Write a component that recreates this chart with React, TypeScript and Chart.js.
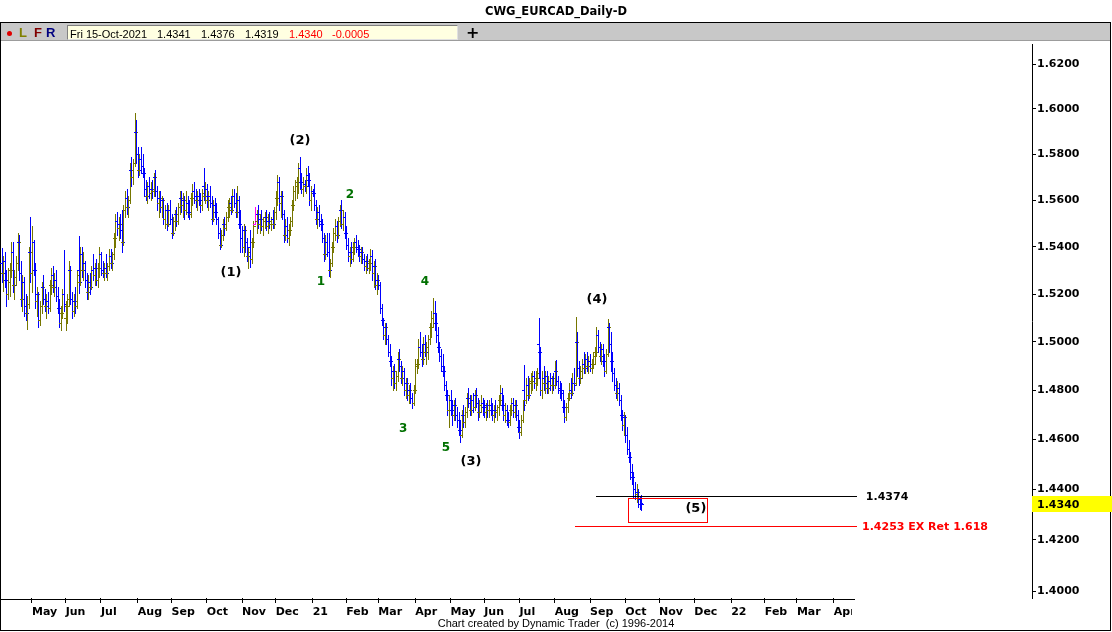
import React, { useEffect, useRef } from 'react';
import { Chart, registerables } from 'chart.js';

Chart.register(...registerables);

// ---------------- DATA ----------------
const FIRST_BAR_DATE = '2020-04-06';

// one row per trading day: [open, high, low, close]
const ohlcBars: [number, number, number, number][] = [
  // Apr 6-10 2020
  [1.5330, 1.5395, 1.5250, 1.5290], [1.5290, 1.5360, 1.5215, 1.5340], [1.5340, 1.5380, 1.5230, 1.5260], [1.5260, 1.5300, 1.5150, 1.5200], [1.5200, 1.5310, 1.5180, 1.5250],
  // Apr 13-17
  [1.5250, 1.5330, 1.5190, 1.5300], [1.5300, 1.5420, 1.5270, 1.5380], [1.5380, 1.5420, 1.5210, 1.5240], [1.5240, 1.5300, 1.5180, 1.5270], [1.5270, 1.5360, 1.5240, 1.5330],
  // Apr 20-24
  [1.5330, 1.5460, 1.5300, 1.5420], [1.5420, 1.5450, 1.5260, 1.5290], [1.5290, 1.5340, 1.5150, 1.5180], [1.5180, 1.5280, 1.5130, 1.5250], [1.5250, 1.5270, 1.5110, 1.5150],
  // Apr 27 - May 1
  [1.5150, 1.5200, 1.5090, 1.5120], [1.5120, 1.5190, 1.5055, 1.5160], [1.5160, 1.5400, 1.5140, 1.5380], [1.5380, 1.5530, 1.5250, 1.5290], [1.5290, 1.5490, 1.5210, 1.5420],
  // May 4-8
  [1.5420, 1.5430, 1.5280, 1.5300], [1.5300, 1.5330, 1.5140, 1.5170], [1.5170, 1.5230, 1.5110, 1.5200], [1.5200, 1.5210, 1.5060, 1.5090], [1.5090, 1.5170, 1.5070, 1.5150],
  // May 11-15
  [1.5150, 1.5250, 1.5120, 1.5230], [1.5230, 1.5280, 1.5160, 1.5180], [1.5180, 1.5220, 1.5130, 1.5150], [1.5150, 1.5200, 1.5100, 1.5170], [1.5170, 1.5210, 1.5120, 1.5140],
  // May 18-22
  [1.5140, 1.5260, 1.5130, 1.5240], [1.5240, 1.5310, 1.5200, 1.5280], [1.5280, 1.5320, 1.5210, 1.5230], [1.5230, 1.5290, 1.5190, 1.5260], [1.5260, 1.5300, 1.5170, 1.5190],
  // May 25-29
  [1.5190, 1.5230, 1.5120, 1.5140], [1.5140, 1.5180, 1.5060, 1.5080], [1.5080, 1.5150, 1.5050, 1.5120], [1.5120, 1.5220, 1.5100, 1.5200], [1.5200, 1.5385, 1.5130, 1.5160],
  // Jun 1-5
  [1.5100, 1.5170, 1.5050, 1.5150], [1.5150, 1.5200, 1.5080, 1.5180], [1.5180, 1.5340, 1.5150, 1.5300], [1.5300, 1.5320, 1.5160, 1.5180], [1.5180, 1.5210, 1.5100, 1.5130],
  // Jun 8-12
  [1.5130, 1.5200, 1.5110, 1.5170], [1.5170, 1.5230, 1.5120, 1.5150], [1.5150, 1.5300, 1.5140, 1.5280], [1.5300, 1.5445, 1.5205, 1.5250], [1.5250, 1.5400, 1.5240, 1.5370],
  // Jun 15-19
  [1.5370, 1.5400, 1.5270, 1.5300], [1.5300, 1.5380, 1.5260, 1.5330], [1.5330, 1.5340, 1.5230, 1.5260], [1.5260, 1.5290, 1.5180, 1.5210], [1.5210, 1.5280, 1.5180, 1.5250],
  // Jun 22-26
  [1.5250, 1.5290, 1.5200, 1.5230], [1.5230, 1.5320, 1.5220, 1.5300], [1.5300, 1.5370, 1.5260, 1.5280], [1.5280, 1.5330, 1.5240, 1.5310], [1.5310, 1.5350, 1.5240, 1.5260],
  // Jun 29 - Jul 3
  [1.5260, 1.5330, 1.5230, 1.5310], [1.5310, 1.5400, 1.5270, 1.5370], [1.5370, 1.5380, 1.5280, 1.5300], [1.5300, 1.5340, 1.5270, 1.5290], [1.5290, 1.5330, 1.5260, 1.5310],
  // Jul 6-10
  [1.5310, 1.5370, 1.5270, 1.5290], [1.5290, 1.5330, 1.5260, 1.5320], [1.5320, 1.5390, 1.5300, 1.5360], [1.5360, 1.5390, 1.5310, 1.5330], [1.5330, 1.5380, 1.5300, 1.5370],
  // Jul 13-17
  [1.5370, 1.5460, 1.5350, 1.5440], [1.5440, 1.5540, 1.5400, 1.5510], [1.5510, 1.5550, 1.5450, 1.5480], [1.5480, 1.5530, 1.5430, 1.5500], [1.5500, 1.5540, 1.5440, 1.5470],
  // Jul 20-24
  [1.5470, 1.5560, 1.5380, 1.5420], [1.5420, 1.5580, 1.5410, 1.5560], [1.5560, 1.5640, 1.5530, 1.5610], [1.5610, 1.5650, 1.5540, 1.5570], [1.5570, 1.5620, 1.5530, 1.5600],
  // Jul 27-31
  [1.5600, 1.5760, 1.5590, 1.5730], [1.5730, 1.5790, 1.5660, 1.5700], [1.5700, 1.5780, 1.5670, 1.5760], [1.5760, 1.5980, 1.5750, 1.5900], [1.5900, 1.5950, 1.5760, 1.5800],
  // Aug 3-7
  [1.5800, 1.5830, 1.5700, 1.5730], [1.5730, 1.5800, 1.5710, 1.5780], [1.5780, 1.5830, 1.5720, 1.5750], [1.5750, 1.5800, 1.5700, 1.5720], [1.5720, 1.5740, 1.5620, 1.5650],
  // Aug 10-14
  [1.5650, 1.5690, 1.5600, 1.5620], [1.5620, 1.5680, 1.5590, 1.5660], [1.5660, 1.5700, 1.5610, 1.5630], [1.5630, 1.5680, 1.5600, 1.5650], [1.5650, 1.5690, 1.5610, 1.5640],
  // Aug 17-21
  [1.5640, 1.5720, 1.5620, 1.5700], [1.5700, 1.5730, 1.5620, 1.5640], [1.5640, 1.5660, 1.5560, 1.5590], [1.5590, 1.5640, 1.5530, 1.5610], [1.5610, 1.5640, 1.5550, 1.5570],
  // Aug 24-28
  [1.5570, 1.5620, 1.5530, 1.5600], [1.5600, 1.5610, 1.5500, 1.5520], [1.5520, 1.5580, 1.5480, 1.5560], [1.5560, 1.5590, 1.5470, 1.5500], [1.5500, 1.5580, 1.5490, 1.5560],
  // Aug 31 - Sep 4
  [1.5560, 1.5600, 1.5500, 1.5520], [1.5520, 1.5540, 1.5440, 1.5460], [1.5460, 1.5530, 1.5450, 1.5510], [1.5510, 1.5560, 1.5470, 1.5540], [1.5540, 1.5570, 1.5490, 1.5510],
  // Sep 7-11
  [1.5510, 1.5590, 1.5500, 1.5570], [1.5570, 1.5640, 1.5540, 1.5610], [1.5610, 1.5640, 1.5550, 1.5580], [1.5580, 1.5630, 1.5530, 1.5600], [1.5600, 1.5620, 1.5520, 1.5560],
  // Sep 14-18
  [1.5560, 1.5640, 1.5540, 1.5590], [1.5590, 1.5620, 1.5530, 1.5550], [1.5550, 1.5600, 1.5520, 1.5540], [1.5540, 1.5630, 1.5530, 1.5610], [1.5610, 1.5670, 1.5580, 1.5640],
  // Sep 21-25
  [1.5640, 1.5680, 1.5590, 1.5620], [1.5620, 1.5650, 1.5570, 1.5600], [1.5600, 1.5640, 1.5560, 1.5620], [1.5620, 1.5650, 1.5580, 1.5600], [1.5600, 1.5630, 1.5550, 1.5580],
  // Sep 28 - Oct 2
  [1.5580, 1.5650, 1.5560, 1.5630], [1.5660, 1.5740, 1.5600, 1.5620], [1.5620, 1.5680, 1.5590, 1.5650], [1.5650, 1.5670, 1.5570, 1.5600], [1.5600, 1.5640, 1.5560, 1.5620],
  // Oct 5-9
  [1.5620, 1.5660, 1.5570, 1.5590], [1.5590, 1.5620, 1.5500, 1.5520], [1.5520, 1.5600, 1.5510, 1.5580], [1.5580, 1.5610, 1.5530, 1.5550], [1.5550, 1.5590, 1.5500, 1.5520],
  // Oct 12-16
  [1.5520, 1.5530, 1.5440, 1.5460], [1.5460, 1.5480, 1.5390, 1.5410], [1.5410, 1.5470, 1.5400, 1.5450], [1.5450, 1.5520, 1.5430, 1.5500], [1.5500, 1.5530, 1.5450, 1.5480],
  // Oct 19-23
  [1.5480, 1.5550, 1.5470, 1.5530], [1.5530, 1.5600, 1.5510, 1.5570], [1.5570, 1.5610, 1.5530, 1.5590], [1.5590, 1.5620, 1.5540, 1.5560], [1.5560, 1.5650, 1.5550, 1.5620],
  // Oct 26-30
  [1.5620, 1.5650, 1.5570, 1.5590], [1.5590, 1.5630, 1.5530, 1.5550], [1.5550, 1.5660, 1.5530, 1.5600], [1.5600, 1.5620, 1.5480, 1.5500], [1.5500, 1.5560, 1.5380, 1.5440],
  // Nov 2-6
  [1.5440, 1.5490, 1.5380, 1.5400], [1.5400, 1.5500, 1.5360, 1.5470], [1.5470, 1.5490, 1.5380, 1.5420], [1.5420, 1.5440, 1.5340, 1.5360], [1.5360, 1.5400, 1.5310, 1.5380],
  // Nov 9-13
  [1.5400, 1.5470, 1.5315, 1.5350], [1.5350, 1.5440, 1.5330, 1.5420], [1.5420, 1.5510, 1.5400, 1.5490], [1.5500, 1.5570, 1.5500, 1.5510], [1.5510, 1.5560, 1.5460, 1.5540],
  // Nov 16-20
  [1.5540, 1.5580, 1.5480, 1.5500], [1.5500, 1.5540, 1.5460, 1.5520], [1.5520, 1.5560, 1.5470, 1.5490], [1.5490, 1.5530, 1.5450, 1.5510], [1.5510, 1.5550, 1.5480, 1.5530],
  // Nov 23-27
  [1.5530, 1.5560, 1.5470, 1.5490], [1.5490, 1.5540, 1.5460, 1.5510], [1.5510, 1.5550, 1.5480, 1.5500], [1.5500, 1.5530, 1.5470, 1.5520], [1.5520, 1.5560, 1.5480, 1.5500],
  // Nov 30 - Dec 4
  [1.5500, 1.5570, 1.5480, 1.5550], [1.5550, 1.5640, 1.5520, 1.5610], [1.5610, 1.5710, 1.5580, 1.5680], [1.5680, 1.5700, 1.5560, 1.5590], [1.5590, 1.5640, 1.5530, 1.5620],
  // Dec 7-11
  [1.5620, 1.5640, 1.5520, 1.5540], [1.5540, 1.5560, 1.5420, 1.5450], [1.5450, 1.5520, 1.5430, 1.5490], [1.5490, 1.5530, 1.5420, 1.5440], [1.5440, 1.5500, 1.5410, 1.5470],
  // Dec 14-18
  [1.5470, 1.5530, 1.5450, 1.5510], [1.5510, 1.5600, 1.5490, 1.5580], [1.5580, 1.5660, 1.5560, 1.5640], [1.5640, 1.5690, 1.5600, 1.5660], [1.5660, 1.5700, 1.5610, 1.5680],
  // Dec 21-25
  [1.5680, 1.5760, 1.5630, 1.5740], [1.5740, 1.5790, 1.5650, 1.5680], [1.5680, 1.5720, 1.5630, 1.5650], [1.5650, 1.5700, 1.5620, 1.5670], [1.5670, 1.5690, 1.5640, 1.5660],
  // Dec 28 - Jan 1
  [1.5660, 1.5740, 1.5630, 1.5710], [1.5710, 1.5750, 1.5660, 1.5690], [1.5690, 1.5720, 1.5580, 1.5600], [1.5600, 1.5660, 1.5560, 1.5640], [1.5640, 1.5650, 1.5620, 1.5630],
  // Jan 4-8 2021
  [1.5630, 1.5670, 1.5560, 1.5580], [1.5580, 1.5600, 1.5500, 1.5520], [1.5520, 1.5570, 1.5480, 1.5550], [1.5550, 1.5580, 1.5490, 1.5510], [1.5510, 1.5540, 1.5470, 1.5500],
  // Jan 11-15
  [1.5500, 1.5520, 1.5420, 1.5440], [1.5440, 1.5460, 1.5340, 1.5370], [1.5370, 1.5450, 1.5350, 1.5420], [1.5420, 1.5460, 1.5360, 1.5380], [1.5380, 1.5460, 1.5275, 1.5300],
  // Jan 18-22
  [1.5300, 1.5350, 1.5270, 1.5330], [1.5330, 1.5420, 1.5320, 1.5400], [1.5400, 1.5480, 1.5380, 1.5460], [1.5460, 1.5520, 1.5430, 1.5490], [1.5490, 1.5510, 1.5420, 1.5450],
  // Jan 25-29
  [1.5450, 1.5530, 1.5440, 1.5510], [1.5510, 1.5580, 1.5490, 1.5560], [1.5560, 1.5600, 1.5480, 1.5500], [1.5500, 1.5560, 1.5470, 1.5530], [1.5530, 1.5550, 1.5440, 1.5460],
  // Feb 1-5
  [1.5460, 1.5490, 1.5390, 1.5410], [1.5410, 1.5440, 1.5340, 1.5360], [1.5360, 1.5400, 1.5320, 1.5380], [1.5380, 1.5420, 1.5330, 1.5350], [1.5350, 1.5420, 1.5340, 1.5400],
  // Feb 8-12
  [1.5400, 1.5440, 1.5370, 1.5420], [1.5420, 1.5450, 1.5380, 1.5400], [1.5400, 1.5430, 1.5360, 1.5390], [1.5390, 1.5410, 1.5340, 1.5360], [1.5360, 1.5400, 1.5330, 1.5380],
  // Feb 15-19
  [1.5380, 1.5400, 1.5330, 1.5350], [1.5350, 1.5370, 1.5300, 1.5320], [1.5320, 1.5360, 1.5290, 1.5340], [1.5340, 1.5370, 1.5300, 1.5310], [1.5310, 1.5350, 1.5290, 1.5330],
  // Feb 22-26
  [1.5330, 1.5390, 1.5300, 1.5360], [1.5360, 1.5385, 1.5260, 1.5290], [1.5290, 1.5340, 1.5230, 1.5320], [1.5320, 1.5350, 1.5220, 1.5240], [1.5240, 1.5290, 1.5200, 1.5260],
  // Mar 1-5
  [1.5260, 1.5280, 1.5220, 1.5240], [1.5240, 1.5250, 1.5120, 1.5140], [1.5140, 1.5160, 1.5070, 1.5090], [1.5090, 1.5100, 1.5010, 1.5030], [1.5030, 1.5080, 1.4990, 1.5060],
  // Mar 8-12
  [1.5060, 1.5080, 1.4990, 1.5010], [1.5010, 1.5030, 1.4940, 1.4960], [1.4960, 1.4990, 1.4900, 1.4920], [1.4920, 1.4940, 1.4820, 1.4850], [1.4850, 1.4900, 1.4800, 1.4880],
  // Mar 15-19
  [1.4880, 1.4910, 1.4810, 1.4830], [1.4830, 1.4880, 1.4800, 1.4860], [1.4860, 1.4960, 1.4840, 1.4930], [1.4930, 1.4970, 1.4880, 1.4900], [1.4900, 1.4920, 1.4830, 1.4850],
  // Mar 22-26
  [1.4850, 1.4900, 1.4820, 1.4880], [1.4880, 1.4890, 1.4780, 1.4800], [1.4800, 1.4850, 1.4770, 1.4830], [1.4830, 1.4850, 1.4760, 1.4780], [1.4780, 1.4820, 1.4750, 1.4800],
  // Mar 29 - Apr 2
  [1.4800, 1.4830, 1.4750, 1.4770], [1.4770, 1.4790, 1.4727, 1.4750], [1.4750, 1.4820, 1.4740, 1.4800], [1.4800, 1.4930, 1.4790, 1.4900], [1.4900, 1.4930, 1.4870, 1.4910],
  // Apr 5-9
  [1.4910, 1.5010, 1.4890, 1.4980], [1.4980, 1.5040, 1.4940, 1.4960], [1.4960, 1.4990, 1.4900, 1.4930], [1.4930, 1.5020, 1.4910, 1.4990], [1.4990, 1.5030, 1.4940, 1.4960],
  // Apr 12-16
  [1.4960, 1.5000, 1.4910, 1.4980], [1.4980, 1.5030, 1.4930, 1.5010], [1.5010, 1.5080, 1.4990, 1.5060], [1.5060, 1.5130, 1.5020, 1.5100], [1.5100, 1.5185, 1.5060, 1.5120],
  // Apr 19-23
  [1.5120, 1.5170, 1.5050, 1.5080], [1.5080, 1.5120, 1.5000, 1.5030], [1.5030, 1.5060, 1.4960, 1.4980], [1.4980, 1.5000, 1.4920, 1.4940], [1.4940, 1.4970, 1.4880, 1.4900],
  // Apr 26-30
  [1.4900, 1.4950, 1.4860, 1.4880], [1.4880, 1.4900, 1.4800, 1.4820], [1.4820, 1.4840, 1.4760, 1.4780], [1.4780, 1.4800, 1.4700, 1.4720], [1.4720, 1.4780, 1.4650, 1.4760],
  // May 3-7
  [1.4760, 1.4800, 1.4700, 1.4720], [1.4720, 1.4760, 1.4660, 1.4700], [1.4700, 1.4760, 1.4680, 1.4740], [1.4740, 1.4770, 1.4680, 1.4700], [1.4700, 1.4730, 1.4650, 1.4680],
  // May 10-14
  [1.4680, 1.4710, 1.4620, 1.4640], [1.4640, 1.4680, 1.4591, 1.4620], [1.4620, 1.4720, 1.4610, 1.4700], [1.4700, 1.4740, 1.4650, 1.4670], [1.4670, 1.4730, 1.4650, 1.4710],
  // May 17-21
  [1.4710, 1.4790, 1.4690, 1.4770], [1.4770, 1.4810, 1.4730, 1.4750], [1.4750, 1.4780, 1.4700, 1.4720], [1.4720, 1.4780, 1.4700, 1.4760], [1.4760, 1.4790, 1.4710, 1.4730],
  // May 24-28
  [1.4730, 1.4800, 1.4720, 1.4780], [1.4780, 1.4810, 1.4730, 1.4750], [1.4750, 1.4770, 1.4680, 1.4710], [1.4710, 1.4760, 1.4690, 1.4740], [1.4740, 1.4780, 1.4710, 1.4750],
  // May 31 - Jun 4
  [1.4750, 1.4770, 1.4700, 1.4730], [1.4730, 1.4760, 1.4690, 1.4710], [1.4710, 1.4750, 1.4680, 1.4740], [1.4740, 1.4760, 1.4690, 1.4720], [1.4720, 1.4760, 1.4690, 1.4740],
  // Jun 7-11
  [1.4740, 1.4770, 1.4700, 1.4720], [1.4720, 1.4750, 1.4680, 1.4700], [1.4700, 1.4740, 1.4670, 1.4720], [1.4720, 1.4760, 1.4690, 1.4710], [1.4710, 1.4740, 1.4680, 1.4730],
  // Jun 14-18
  [1.4730, 1.4780, 1.4700, 1.4760], [1.4760, 1.4820, 1.4740, 1.4790], [1.4790, 1.4810, 1.4720, 1.4740], [1.4740, 1.4780, 1.4680, 1.4700], [1.4700, 1.4750, 1.4670, 1.4720],
  // Jun 21-25
  [1.4720, 1.4740, 1.4660, 1.4680], [1.4680, 1.4710, 1.4650, 1.4670], [1.4670, 1.4740, 1.4660, 1.4720], [1.4720, 1.4770, 1.4700, 1.4750], [1.4750, 1.4770, 1.4690, 1.4710],
  // Jun 28 - Jul 2
  [1.4710, 1.4760, 1.4690, 1.4740], [1.4740, 1.4760, 1.4680, 1.4700], [1.4700, 1.4720, 1.4630, 1.4650], [1.4650, 1.4680, 1.4607, 1.4630], [1.4630, 1.4700, 1.4620, 1.4680],
  // Jul 5-9
  [1.4680, 1.4760, 1.4670, 1.4740], [1.4800, 1.4905, 1.4720, 1.4760], [1.4760, 1.4850, 1.4750, 1.4820], [1.4820, 1.4860, 1.4760, 1.4780], [1.4780, 1.4850, 1.4770, 1.4830],
  // Jul 12-16
  [1.4830, 1.4870, 1.4790, 1.4840], [1.4840, 1.4880, 1.4800, 1.4860], [1.4860, 1.4880, 1.4810, 1.4830], [1.4830, 1.4880, 1.4800, 1.4850], [1.4850, 1.4890, 1.4820, 1.4870],
  // Jul 19-23
  [1.4990, 1.5100, 1.4850, 1.4960], [1.4960, 1.4980, 1.4780, 1.4800], [1.4800, 1.4880, 1.4770, 1.4850], [1.4850, 1.4900, 1.4800, 1.4830], [1.4830, 1.4880, 1.4790, 1.4860],
  // Jul 26-30
  [1.4860, 1.4880, 1.4790, 1.4810], [1.4810, 1.4860, 1.4790, 1.4840], [1.4840, 1.4870, 1.4800, 1.4820], [1.4820, 1.4860, 1.4790, 1.4850], [1.4850, 1.4870, 1.4800, 1.4820],
  // Aug 2-6
  [1.4820, 1.4920, 1.4810, 1.4880], [1.4880, 1.4925, 1.4820, 1.4840], [1.4840, 1.4860, 1.4790, 1.4810], [1.4810, 1.4840, 1.4770, 1.4800], [1.4800, 1.4830, 1.4760, 1.4790],
  // Aug 9-13
  [1.4790, 1.4800, 1.4710, 1.4730], [1.4730, 1.4760, 1.4670, 1.4690], [1.4690, 1.4750, 1.4680, 1.4730], [1.4730, 1.4790, 1.4710, 1.4770], [1.4770, 1.4830, 1.4760, 1.4800],
  // Aug 16-20
  [1.4800, 1.4850, 1.4770, 1.4790], [1.4790, 1.4870, 1.4780, 1.4830], [1.4830, 1.4890, 1.4800, 1.4820], [1.4830, 1.5105, 1.4820, 1.5000], [1.5000, 1.5040, 1.4860, 1.4890],
  // Aug 23-27
  [1.4890, 1.4920, 1.4820, 1.4850], [1.4850, 1.4900, 1.4830, 1.4880], [1.4880, 1.4930, 1.4850, 1.4910], [1.4910, 1.4960, 1.4870, 1.4890], [1.4890, 1.4950, 1.4870, 1.4930],
  // Aug 30 - Sep 3
  [1.4930, 1.4960, 1.4880, 1.4900], [1.4900, 1.4940, 1.4870, 1.4920], [1.4920, 1.4950, 1.4880, 1.4890], [1.4890, 1.4930, 1.4870, 1.4910], [1.4910, 1.4960, 1.4890, 1.4940],
  // Sep 6-10
  [1.4940, 1.4980, 1.4910, 1.4960], [1.4960, 1.5060, 1.4940, 1.5030], [1.5030, 1.5050, 1.4960, 1.4980], [1.4980, 1.5000, 1.4920, 1.4940], [1.4940, 1.4990, 1.4910, 1.4970],
  // Sep 13-17
  [1.4970, 1.4990, 1.4900, 1.4920], [1.4920, 1.4950, 1.4860, 1.4880], [1.4880, 1.4970, 1.4870, 1.4950], [1.4950, 1.5095, 1.4940, 1.5060], [1.5060, 1.5080, 1.4960, 1.4990],
  // Sep 20-24
  [1.4990, 1.5040, 1.4880, 1.4920], [1.4920, 1.4960, 1.4840, 1.4870], [1.4870, 1.4890, 1.4800, 1.4820], [1.4820, 1.4850, 1.4770, 1.4790], [1.4790, 1.4840, 1.4760, 1.4810],
  // Sep 27 - Oct 1
  [1.4810, 1.4830, 1.4740, 1.4760], [1.4760, 1.4780, 1.4680, 1.4700], [1.4700, 1.4720, 1.4640, 1.4660], [1.4660, 1.4710, 1.4620, 1.4690], [1.4690, 1.4700, 1.4590, 1.4620],
  // Oct 4-8
  [1.4620, 1.4650, 1.4540, 1.4560], [1.4560, 1.4600, 1.4510, 1.4530], [1.4530, 1.4550, 1.4440, 1.4470], [1.4470, 1.4500, 1.4420, 1.4450], [1.4450, 1.4470, 1.4370, 1.4400],
  // Oct 11-15
  [1.4400, 1.4430, 1.4360, 1.4380], [1.4380, 1.4420, 1.4350, 1.4390], [1.4390, 1.4400, 1.4330, 1.4360], [1.4360, 1.4370, 1.4320, 1.4345], [1.4341, 1.4376, 1.4319, 1.4340],
];

const highlightedBarDate = '2020-11-12';

const monthTickLabels = ['May', 'Jun', 'Jul', 'Aug', 'Sep', 'Oct', 'Nov', 'Dec', '21', 'Feb', 'Mar', 'Apr', 'May', 'Jun', 'Jul', 'Aug', 'Sep', 'Oct', 'Nov', 'Dec', '22', 'Feb', 'Mar', 'Apr'];
const priceTicks = [1.40, 1.42, 1.44, 1.46, 1.48, 1.50, 1.52, 1.54, 1.56, 1.58, 1.60, 1.62];

// wave labels: text, bar position (trading-day index), price
const waveText = ['(1)', '(2)', '(3)', '(4)', '(5)'];
const waveBar = [143.1, 186.1, 292.8, 371.3, 433.0];
const wavePrice = [1.5289, 1.5862, 1.4510, 1.5175, 1.4322];
const subWaveText = ['1', '2', '3', '4', '5'];
const subWaveBar = [199.2, 217.3, 250.4, 264.1, 277.2];
const subWavePrice = [1.5251, 1.5623, 1.4643, 1.5251, 1.4566];

// horizontal levels
const levelPrice = [1.4374, 1.4253];
const levelText = ['1.4374', '1.4253 EX Ret 1.618'];
const levelFromBar = [370.7, 357.6];
const levelToBar = 533.5;
const levelLabelBar = [539.0, 536.6];

// target zone
const targetBars = [390.7, 440.0];
const targetPrices = [1.4366, 1.4270];

// axis ranges (trading-day index / price)
const xRange = [-0.33, 642.6];
const yRange = [1.3973, 1.629];
const timeAxisEndBar = 532.2;

// ---------------- helpers ----------------
function tradingDays(start: string, count: number): Date[] {
  const out: Date[] = [];
  const d = new Date(start + 'T00:00:00Z');
  while (out.length < count) {
    const wd = d.getUTCDay();
    if (wd !== 0 && wd !== 6) out.push(new Date(d.getTime()));
    d.setUTCDate(d.getUTCDate() + 1);
  }
  return out;
}

const calendar = tradingDays(FIRST_BAR_DATE, 700);
const monthStartIdx: number[] = [];
for (let j = 1; j < calendar.length && monthStartIdx.length < monthTickLabels.length; j++) {
  if (calendar[j].getUTCMonth() !== calendar[j - 1].getUTCMonth()) monthStartIdx.push(j);
}
const highlightIdx = calendar.findIndex((d) => d.toISOString().slice(0, 10) === highlightedBarDate);

const OLIVE = '#767600';
const BLUE = '#0000ff';
const PINK = '#ff00ff';
const AXIS_FONT = '"DejaVu Sans", sans-serif';

const drawPlugin = {
  id: 'dtDraw',
  beforeDraw(chart: any) {
    const { ctx, width, height, chartArea } = chart;
    const xs = chart.scales.x;
    const clipX = xs.getPixelForValue(timeAxisEndBar) - 3;
    ctx.save();
    ctx.beginPath();
    ctx.rect(0, 0, width, height);
    ctx.rect(clipX, chartArea.bottom + 1, chartArea.right - clipX, height - chartArea.bottom);
    ctx.clip('evenodd');
  },
  beforeDatasetsDraw(chart: any) {
    chart.ctx.restore();
  },
  afterDraw(chart: any) {
    const { ctx, chartArea } = chart;
    const xs = chart.scales.x;
    const ys = chart.scales.y;
    ctx.save();

    // time axis line (ends where the time axis ends)
    const axisEnd = Math.round(xs.getPixelForValue(timeAxisEndBar));
    ctx.fillStyle = '#000';
    ctx.fillRect(0, Math.round(chartArea.bottom) + 1, axisEnd, 1);

    // OHLC bars
    for (let j = 0; j < ohlcBars.length; j++) {
      const [o, h, l, c] = ohlcBars[j];
      const px = Math.round(xs.getPixelForValue(j));
      const yH = Math.round(ys.getPixelForValue(h));
      const yL = Math.round(ys.getPixelForValue(l));
      const yO = Math.round(ys.getPixelForValue(o));
      const yC = Math.round(ys.getPixelForValue(c));
      ctx.fillStyle = j === highlightIdx ? PINK : c < o ? BLUE : OLIVE;
      ctx.fillRect(px, yH, 1, Math.max(1, yL - yH + 1));
      ctx.fillRect(px - 2, yO, 2, 1);
      ctx.fillRect(px + 1, yC, 2, 1);
    }

    // horizontal levels + labels
    const levelColors = ['#000000', '#ff0000'];
    ctx.font = `bold 11px ${AXIS_FONT}`;
    ctx.textBaseline = 'middle';
    ctx.textAlign = 'left';
    for (let k = 0; k < levelPrice.length; k++) {
      const yy = Math.round(ys.getPixelForValue(levelPrice[k]));
      const x1 = Math.round(xs.getPixelForValue(levelFromBar[k]));
      const x2 = Math.round(xs.getPixelForValue(levelToBar));
      ctx.fillStyle = levelColors[k];
      ctx.fillRect(x1, yy, x2 - x1, 1);
      ctx.fillText(levelText[k], xs.getPixelForValue(levelLabelBar[k]), yy + 1);
    }

    // target box
    const bx1 = Math.round(xs.getPixelForValue(targetBars[0]));
    const bx2 = Math.round(xs.getPixelForValue(targetBars[1]));
    const by1 = Math.round(ys.getPixelForValue(targetPrices[0]));
    const by2 = Math.round(ys.getPixelForValue(targetPrices[1]));
    ctx.strokeStyle = '#ff0000';
    ctx.lineWidth = 1;
    ctx.strokeRect(bx1 + 0.5, by1 + 0.5, bx2 - bx1, by2 - by1);

    // wave labels
    ctx.textAlign = 'center';
    ctx.font = `bold 13px ${AXIS_FONT}`;
    ctx.fillStyle = '#000';
    for (let k = 0; k < waveText.length; k++) {
      ctx.fillText(waveText[k], xs.getPixelForValue(waveBar[k]), ys.getPixelForValue(wavePrice[k]));
    }
    ctx.font = `bold 12px ${AXIS_FONT}`;
    ctx.fillStyle = '#007000';
    for (let k = 0; k < subWaveText.length; k++) {
      ctx.fillText(subWaveText[k], xs.getPixelForValue(subWaveBar[k]), ys.getPixelForValue(subWavePrice[k]));
    }

    // last price marker on the price axis
    const last = ohlcBars[ohlcBars.length - 1][3];
    const ly = Math.round(ys.getPixelForValue(last));
    ctx.fillStyle = '#ffff00';
    ctx.fillRect(Math.round(chartArea.right), ly - 8, 80, 16);
    ctx.fillStyle = '#000';
    ctx.textAlign = 'left';
    ctx.font = `bold 11px ${AXIS_FONT}`;
    ctx.fillText(last.toFixed(4), Math.round(chartArea.right) + 5, ly + 1);

    ctx.restore();
  },
};

function PriceChart() {
  const ref = useRef<HTMLCanvasElement | null>(null);
  useEffect(() => {
    if (!ref.current) return;
    const font = { family: AXIS_FONT, size: 11, weight: 'bold' as const };
    const chart = new Chart(ref.current, {
      type: 'line',
      data: { datasets: [] },
      options: {
        animation: false,
        responsive: false,
        devicePixelRatio: 1,
        events: [],
        layout: { padding: { top: 44, left: 1, right: 0, bottom: 0 } },
        plugins: { legend: { display: false }, tooltip: { enabled: false }, title: { display: false } },
        scales: {
          x: {
            type: 'linear',
            position: 'bottom',
            min: xRange[0],
            max: xRange[1],
            afterBuildTicks: (s: any) => {
              s.ticks = monthStartIdx.map((v) => ({ value: v }));
            },
            afterFit: (s: any) => {
              s.height = 34;
            },
            border: { display: false },
            grid: { drawOnChartArea: false, drawTicks: true, tickLength: 5, color: '#000', lineWidth: 1 },
            ticks: {
              autoSkip: false,
              maxRotation: 0,
              minRotation: 0,
              align: 'start',
              padding: 3,
              color: '#000',
              font,
              callback: (_v: any, i: number) => monthTickLabels[i],
            },
          },
          y: {
            type: 'logarithmic',
            position: 'right',
            min: yRange[0],
            max: yRange[1],
            afterBuildTicks: (s: any) => {
              s.ticks = priceTicks.map((v) => ({ value: v }));
            },
            afterFit: (s: any) => {
              s.width = 80;
            },
            border: { display: true, color: '#000', width: 1 },
            grid: { drawOnChartArea: false, drawTicks: true, tickLength: 4, color: '#000' },
            ticks: {
              padding: 1,
              color: '#000',
              font,
              autoSkip: false,
              callback: (v: any) => Number(v).toFixed(4),
            },
          },
        },
      } as any,
      plugins: [drawPlugin],
    });
    return () => chart.destroy();
  }, []);
  return <canvas ref={ref} width={1112} height={632} style={{ position: 'absolute', left: 0, top: 0, width: 1112, height: 632 }} />;
}

export default function App() {
  const ui = '"Liberation Sans", Arial, sans-serif';
  const field = (text: string, left: number, color = '#000') => (
    <span style={{ position: 'absolute', left, top: 27, lineHeight: '14px', fontSize: 11, fontFamily: ui, color, whiteSpace: 'pre' }}>{text}</span>
  );
  const letter = (text: string, left: number, color: string) => (
    <span style={{ position: 'absolute', left, top: 26, lineHeight: '14px', fontSize: 13, fontWeight: 'bold', fontFamily: ui, color }}>{text}</span>
  );
  return (
    <div style={{ position: 'absolute', left: 0, top: 0, width: 1112, height: 632, overflow: 'hidden', background: '#fff' }}>
      <div style={{ position: 'absolute', left: 0, top: 22, width: 1111, height: 609, border: '1px solid #000', boxSizing: 'border-box' }} />
      <PriceChart />
      <div style={{ position: 'absolute', left: 0, top: 0, width: 1112, height: 22, lineHeight: '22px', textAlign: 'center', fontFamily: AXIS_FONT, fontWeight: 'bold', fontSize: 11.5, color: '#000' }}>
        CWG_EURCAD_Daily-D
      </div>
      <div style={{ position: 'absolute', left: 1, top: 23, width: 1109, height: 17, background: '#c8c8c8', borderBottom: '1px solid #9c9c9c' }} />
      <div style={{ position: 'absolute', left: 7, top: 31, width: 5, height: 5, borderRadius: '50%', background: '#e00000' }} />
      {letter('L', 19, '#808000')}
      {letter('F', 34, '#800000')}
      {letter('R', 46, '#000080')}
      <div style={{ position: 'absolute', left: 67, top: 25, width: 391, height: 15, background: '#ffffe1', boxSizing: 'border-box', borderTop: '1px solid #808080', borderLeft: '1px solid #808080', borderRight: '1px solid #e0e0e0', borderBottom: '1px solid #e0e0e0' }} />
      {field('Fri 15-Oct-2021', 70)}
      {field('1.4341', 157)}
      {field('1.4376', 201)}
      {field('1.4319', 245)}
      {field('1.4340', 289, '#ff0000')}
      {field('-0.0005', 332, '#ff0000')}
      <span style={{ position: 'absolute', left: 466, top: 25, lineHeight: '16px', fontSize: 16, fontWeight: 'bold', fontFamily: AXIS_FONT, color: '#000' }}>+</span>
      <div style={{ position: 'absolute', left: 0, top: 616, width: 1112, textAlign: 'center', lineHeight: '14px', fontSize: 11, fontFamily: ui, color: '#000', whiteSpace: 'pre' }}>
        Chart created by Dynamic Trader  (c) 1996-2014
      </div>
    </div>
  );
}
